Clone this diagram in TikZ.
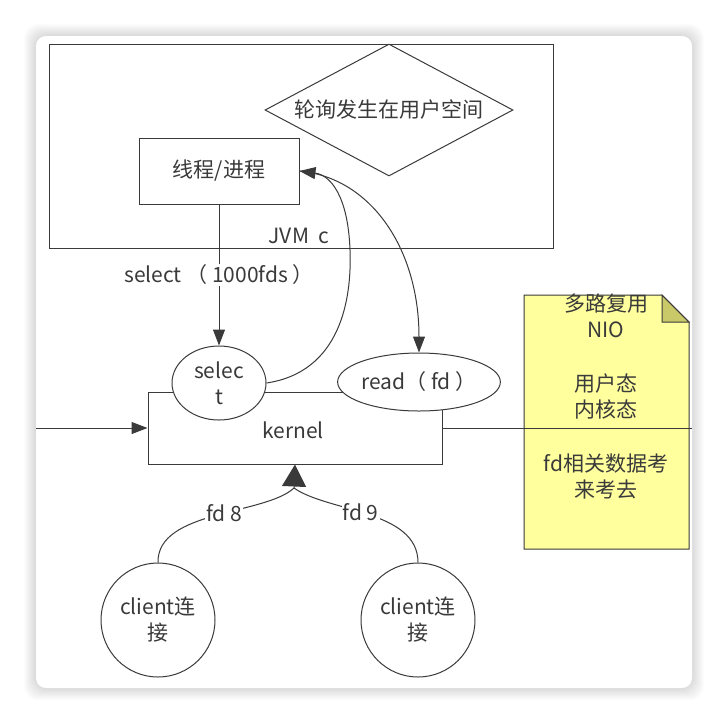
\documentclass[tikz,border=0pt]{standalone}
\usepackage{fontspec}
\setmainfont{Noto Sans CJK SC}
\usetikzlibrary{arrows.meta,shapes.geometric}
\definecolor{notefill}{HTML}{FFFF9E}
\definecolor{notefold}{HTML}{C9C969}
\definecolor{inkgray}{HTML}{3A3A3A}

\begin{document}
\begin{tikzpicture}[x=1pt,y=-1pt,line width=1pt,draw=inkgray,
	every node/.style={font=\fontsize{21}{26}\selectfont,text=inkgray,align=center},
	box/.style={draw,rectangle,inner sep=0pt},
	oval/.style={draw,ellipse,fill=white,inner sep=0pt},
	client/.style={draw,circle,fill=white,inner sep=0pt,minimum size=114pt},
	tip/.style={-{Triangle[length=16pt,width=12pt]}}]
	
	%card
	\useasboundingbox (0,0) rectangle (728,724);
	\fill[white] (0,0) rectangle (728,724);
	\foreach \i in {1,...,12}
	\fill[black,opacity=0.012,rounded corners=14] (36-\i,36-\i) rectangle (692+\i,688+\i);
	\fill[white,rounded corners=10] (36,36) rectangle (692,688);
	
	\node[box,minimum width=504pt,minimum height=204pt] (jvm) at (301,146){};
	\node (jvmlbl) at (299,236){JVM\ \ c};
	\node[draw,diamond,aspect=1.88,inner sep=0pt,minimum width=248pt,minimum height=132pt] (poll) at (389,110){轮询发生在用户空间};
	\node[box,minimum width=160pt,minimum height=66pt] (proc) at (219,171){线程/进程};
	\node[box,minimum width=294pt,minimum height=72pt] (kern) at (295,428){};
	\node (kernlbl) at (293,430){kernel};
	\node[oval,minimum width=94pt,minimum height=74pt] (sel) at (219,383){selec\\t};
	\node[oval,minimum width=154pt,minimum height=58pt] (rd) at (419,382){read（ fd ）};
	\node[client] (cl1) at (158,620){client连\\接};
	\node[client] (cl2) at (418,620){client连\\接};
	\coordinate (lin) at (36,428);
	\coordinate (rout) at (692,428);
	\coordinate (join) at (294,488);
	
	%note
	\fill[notefill] (524,295) -- (662,295) -- (689,322) -- (689,549) -- (524,549) -- cycle;
	\filldraw[fill=notefold] (662,295) -- (662,322) -- (689,322) -- cycle;
	\draw (524,295) -- (662,295) -- (689,322) -- (689,549) -- (524,549) -- cycle;
	\node (notetop) at (606,357){多路复用\\NIO\\[28pt]用户态\\内核态};
	\node (notebot) at (606,476){fd相关数据考\\来考去};
	
	\begin{scope}[every node/.style={font=\fontsize{21}{26}\selectfont,text=inkgray,fill=white,inner sep=1pt}]
	%edges
	\draw[tip] (proc) -- node{select （ 1000fds ）} (sel);
	\draw[tip] (lin) -- (kern.west);
	\draw (kern.east) -- (rout);
	\draw[tip] (sel.east) .. controls (340,372) and (352,300) .. (350,250) .. controls (348,195) and (330,175) .. (proc.east);
	\draw[tip] (proc.east) .. controls (372,178) and (419,250) .. (rd.north);
	\draw[-{Triangle[length=22pt,width=24pt]}] (join) -- (kern.south);
	\draw (cl1.north) .. controls (157,510) and (265,515) .. node[pos=0.55]{fd 8} (join);
	\draw (cl2.north) .. controls (418,510) and (328,512) .. node[pos=0.55]{fd 9} (join);
	\end{scope}
\end{tikzpicture}
\end{document}
